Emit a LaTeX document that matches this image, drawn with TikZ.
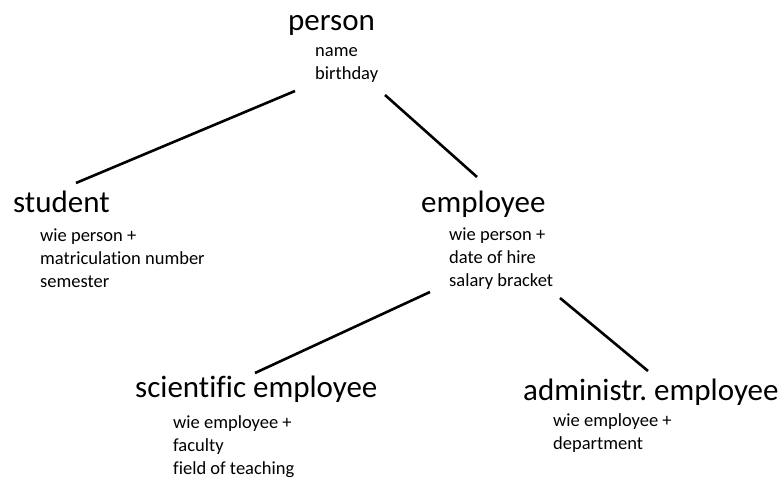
\documentclass[tikz,border=0pt]{standalone}
\usepackage{fontspec}
\setmainfont{Carlito}[Ligatures=NoCommon]
\usepackage{tikz}
\frenchspacing

\tikzset{
    classname/.style={inner sep=0pt, anchor=base west, font=\fontsize{31}{36}\selectfont},
    attrs/.style={inner sep=0pt, anchor=base west, align=left, font=\fontsize{18.5}{23}\selectfont},
    link/.style={line width=2.6pt}
}

\begin{document}
\begin{tikzpicture}[x=1pt, y=1pt]
            \useasboundingbox (0,0) rectangle (782,481);
            \node[classname] (person) at (288,450) {person};
            \node[attrs] (personattr) at (315,401) {name\\birthday};

            \node[classname] (student) at (13,268) {student};
            \node[attrs] (studentattr) at (40,193) {wie person +\\matriculation number\\semester};

            \node[classname] (employee) at (421,268) {employee};
            \node[attrs] (employeeattr) at (449,194) {wie person +\\date of hire\\salary bracket};

            \node[classname] (sciemp) at (135,83) {scientific employee};
            \node[attrs] (sciempattr) at (173,6) {wie employee +\\faculty\\field of teaching};

            \node[classname] (admemp) at (523,80) {administr. employee};
            \node[attrs] (admempattr) at (553,31) {wie employee +\\department};

            \draw[link] ([shift={(-20,-11)}]personattr.base west) -- ([shift={(63,30)}]student.base west);
            \draw[link] ([shift={(70,-15)}]personattr.base west) -- ([shift={(56,36)}]employee.base west);
            \draw[link] ([shift={(-19,-5)}]employeeattr.base west) -- ([shift={(120,25)}]sciemp.base west);
            \draw[link] ([shift={(111,-11)}]employeeattr.base west) -- ([shift={(125,30)}]admemp.base west);
        \end{tikzpicture}
\end{document}
